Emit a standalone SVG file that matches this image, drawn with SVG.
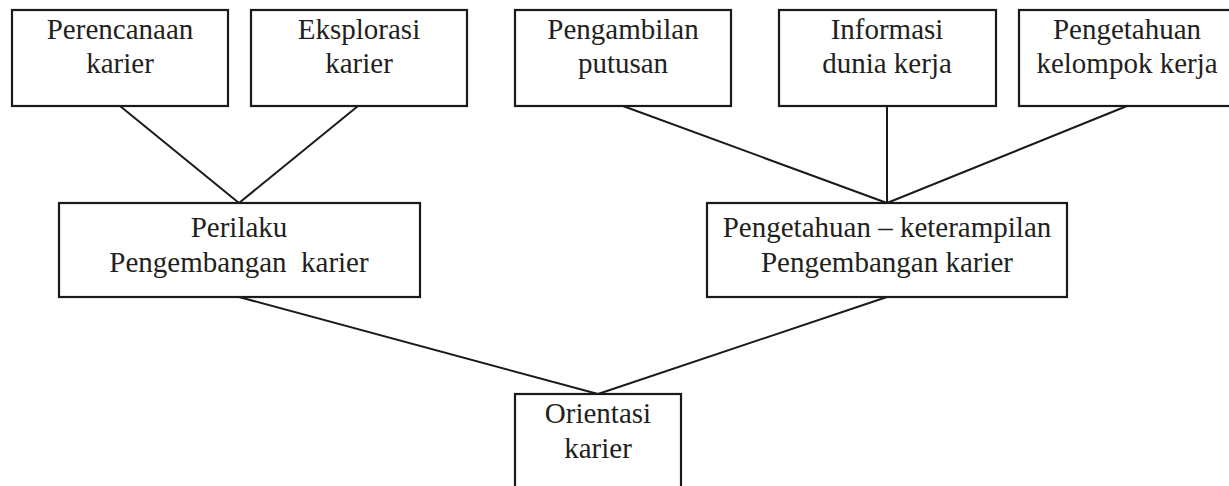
<svg xmlns="http://www.w3.org/2000/svg" width="1229" height="486" viewBox="0 0 1229 486">
<style>
.box{fill:#fff;stroke:#1a1a1a;stroke-width:2.2}
.ln{stroke:#1a1a1a;stroke-width:2;fill:none}
</style>
<rect width="1229" height="486" fill="#fff"/>
<g id="connectors">
<line class="ln" x1="120" y1="106" x2="239" y2="203"/>
<line class="ln" x1="358" y1="106" x2="239" y2="203"/>
<line class="ln" x1="623" y1="106" x2="887" y2="203"/>
<line class="ln" x1="887" y1="106" x2="887" y2="203"/>
<line class="ln" x1="1127" y1="106" x2="887" y2="203"/>
<line class="ln" x1="239" y1="297" x2="598" y2="394"/>
<line class="ln" x1="887" y1="297" x2="598" y2="394"/>
</g>
<g font-family="Liberation Serif, serif" font-size="29" fill="#231f20" text-anchor="middle">
<g id="n1"><rect class="box" x="12" y="10" width="216" height="96"/><text x="120" y="39">Perencanaan</text><text x="120" y="73">karier</text></g>
<g id="n2"><rect class="box" x="251" y="10" width="216" height="96"/><text x="359" y="39">Eksplorasi</text><text x="359" y="73">karier</text></g>
<g id="n3"><rect class="box" x="515" y="10" width="216" height="96"/><text x="623" y="39">Pengambilan</text><text x="623" y="73">putusan</text></g>
<g id="n4"><rect class="box" x="779" y="10" width="217" height="96"/><text x="887" y="39">Informasi</text><text x="887" y="73">dunia kerja</text></g>
<g id="n5"><rect class="box" x="1019" y="10" width="216" height="96"/><text x="1127" y="39">Pengetahuan</text><text x="1127" y="73">kelompok kerja</text></g>
<g id="nA"><rect class="box" x="59" y="203" width="361" height="94"/><text x="239" y="237">Perilaku</text><text x="239" y="272" xml:space="preserve">Pengembangan  karier</text></g>
<g id="nB"><rect class="box" x="707" y="203" width="360" height="94"/><text x="887" y="237">Pengetahuan – keterampilan</text><text x="887" y="272">Pengembangan karier</text></g>
<g id="nC"><rect class="box" x="515" y="394" width="166" height="110"/><text x="598" y="423">Orientasi</text><text x="598" y="458">karier</text></g>
</g>
</svg>
